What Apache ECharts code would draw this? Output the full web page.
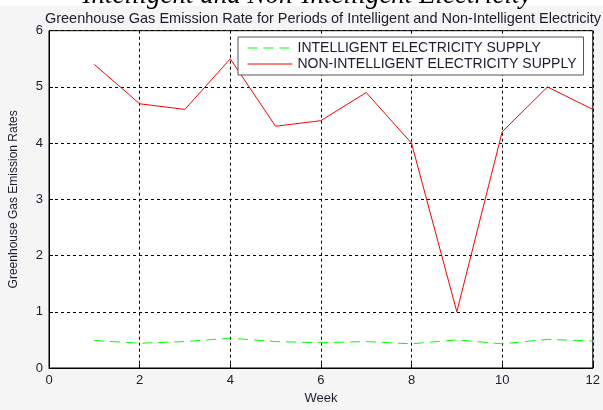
<!DOCTYPE html>
<html>
<head>
<meta charset="utf-8">
<script src="https://cdn.jsdelivr.net/npm/echarts@6/dist/echarts.min.js"></script>
<style>
  html, body { margin: 0; padding: 0; background: #f5f5f5; }
  #main { width: 603px; height: 410px; }
</style>
</head>
<body>
<div id="main"></div>
<script>
// weeks 1..12
var weeks = [1, 2, 3, 4, 5, 6, 7, 8, 9, 10, 11, 12];
var intelligent = [0.49, 0.44, 0.47, 0.53, 0.47, 0.45, 0.47, 0.43, 0.5, 0.43, 0.51, 0.48];
var nonIntelligent = [5.4, 4.7, 4.6, 5.5, 4.3, 4.4, 4.9, 4.0, 1.0, 4.2, 5.0, 4.6];

var font = 'Liberation Sans';
var txt = '#1c1c2e';

function pairs(vals) {
  return weeks.map(function (w, i) { return [w, vals[i]]; });
}

var myChart = echarts.init(document.getElementById('main'));

var option = {
  backgroundColor: '#f5f5f5',
  animation: false,
  title: {
    text: 'Greenhouse Gas Emission Rate for Periods of Intelligent and Non-Intelligent Electricity',
    left: 318,
    textAlign: 'center',
    top: 6,
    textStyle: { fontFamily: font, fontSize: 14.5, fontWeight: 'normal', color: txt }
  },
  graphic: [{
    type: 'rect',
    left: 0,
    top: 0,
    z: 0,
    shape: { width: 603, height: 6 },
    style: { fill: '#fff' }
  }, {
    type: 'text',
    x: 307,
    y: 9,
    z: 10,
    style: {
      text: 'Intelligent and Non-Intelligent Electricity',
      font: 'italic 27px "Liberation Serif"',
      fill: '#000',
      align: 'center',
      verticalAlign: 'bottom'
    }
  }],
  legend: {
    orient: 'vertical',
    left: 238,
    top: 37,
    padding: [4, 7, 4, 9],
    itemGap: 2,
    itemWidth: 45,
    itemHeight: 12,
    backgroundColor: '#fff',
    borderColor: '#555',
    borderWidth: 1,
    borderRadius: 0,
    itemStyle: { opacity: 0 },
    lineStyle: { width: 1 },
    textStyle: { fontFamily: font, fontSize: 14, color: txt },
    data: ['INTELLIGENT ELECTRICITY SUPPLY', 'NON-INTELLIGENT ELECTRICITY SUPPLY']
  },
  grid: {
    left: 47.5,
    right: 10,
    top: 30.7,
    bottom: 31,
    show: true,
    backgroundColor: '#fff',
    borderColor: '#000',
    borderWidth: 1
  },
  xAxis: {
    type: 'value',
    min: 0,
    max: 12,
    interval: 2,
    name: 'Week',
    nameLocation: 'middle',
    nameGap: 24,
    nameTextStyle: { fontFamily: font, fontSize: 13, color: txt },
    axisLine: { lineStyle: { color: '#000' } },
    axisTick: { inside: true, length: 4, lineStyle: { color: '#000' } },
    axisLabel: { fontFamily: font, fontSize: 13, color: txt, margin: 6 },
    splitLine: { show: true, lineStyle: { color: '#000', type: [3, 3] } }
  },
  yAxis: {
    type: 'value',
    min: 0,
    max: 6,
    interval: 1,
    name: 'Greenhouse Gas Emission Rates',
    nameLocation: 'middle',
    nameGap: 29,
    nameRotate: 90,
    nameTextStyle: { fontFamily: font, fontSize: 12, color: txt },
    axisLine: { show: true, lineStyle: { color: '#000' } },
    axisTick: { show: true, inside: true, length: 4, lineStyle: { color: '#000' } },
    axisLabel: { fontFamily: font, fontSize: 13, color: txt, margin: 6 },
    splitLine: { show: true, lineStyle: { color: '#000', type: [3, 3] } }
  },
  series: [{
    name: 'INTELLIGENT ELECTRICITY SUPPLY',
    type: 'line',
    symbol: 'none',
    color: '#00ff00',
    lineStyle: { color: '#00ff00', width: 1, type: [10, 6] },
    data: pairs(intelligent)
  }, {
    name: 'NON-INTELLIGENT ELECTRICITY SUPPLY',
    type: 'line',
    symbol: 'none',
    color: '#ff0000',
    lineStyle: { color: '#ff0000', width: 1 },
    data: pairs(nonIntelligent)
  }]
};
myChart.setOption(option);
</script>
</body>
</html>
